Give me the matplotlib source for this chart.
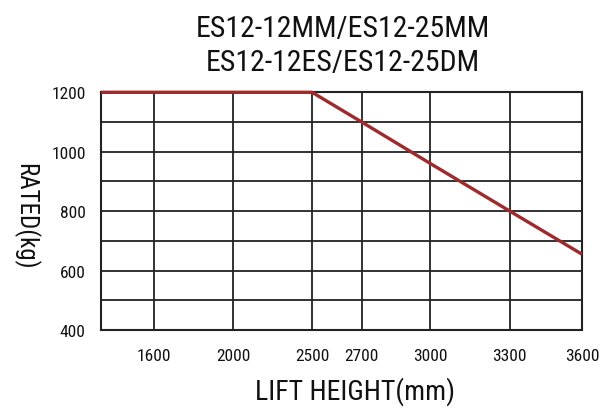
import matplotlib.pyplot as plt
import numpy as np

plt.rcParams["font.family"] = ["Roboto Condensed", "Liberation Sans", "DejaVu Sans"]

TITLE_LINES = ["ES12-12MM/ES12-25MM", "ES12-12ES/ES12-25DM"]
X_LABEL = "LIFT HEIGHT(mm)"
Y_LABEL = "RATED(kg)"

# lift height (mm) and rated capacity (kg)
lift_height = [1330, 2500, 2700, 3000, 3300, 3600]
rated_load = [1200, 1200, 1100, 960, 800, 655]

x_ticks = [1600, 2000, 2500, 2700, 3000, 3300, 3600]
y_ticks = [400, 600, 800, 1000, 1200]
y_grid = [400, 500, 600, 700, 800, 900, 1000, 1100, 1200]

# the original axis is not linear: anchor each tick on its drawn slot
scale_values = np.array([1330, 1600, 2000, 2500, 2700, 3000, 3300, 3600], dtype=float)
scale_slots = np.array([0.0, 0.110, 0.275, 0.439, 0.542, 0.685, 0.850, 1.0])


def forward(values):
    return np.interp(values, scale_values, scale_slots)


def inverse(values):
    return np.interp(values, scale_slots, scale_values)


fig = plt.figure(figsize=(6.06, 4.10), dpi=100)
ax = fig.add_axes([0.1667, 0.1927, 0.7937, 0.5797])

ax.set_xscale("function", functions=(forward, inverse))
ax.set_xlim(scale_values[0], scale_values[-1])
ax.set_ylim(400, 1200)

for value in x_ticks:
    ax.axvline(value, color="#222222", linewidth=1.3, zorder=1)
for value in y_grid:
    ax.axhline(value, color="#222222", linewidth=1.3, zorder=1)

ax.plot(lift_height, rated_load, color="#9e2a2b", linewidth=2.4,
        solid_capstyle="butt", zorder=3, clip_on=False)

ax.set_xticks(x_ticks)
ax.set_xticklabels([str(v) for v in x_ticks])
ax.set_yticks(y_ticks)
ax.set_yticklabels([str(v) for v in y_ticks])
ax.tick_params(axis="both", length=0, labelsize=12.5, labelcolor="#111111")
ax.tick_params(axis="x", pad=13)
ax.tick_params(axis="y", pad=11)

for spine in ax.spines.values():
    spine.set_color("#222222")
    spine.set_linewidth(1.5)

ax.set_xlabel(X_LABEL, fontsize=20, va="center", color="#111111")
ax.xaxis.set_label_coords(0.528, -0.255)
ax.set_ylabel(Y_LABEL, fontsize=18, rotation=-90, va="center", ha="center",
              color="#111111")
ax.yaxis.set_label_coords(-0.156, 0.484)

fig.text(0.565, 0.929, TITLE_LINES[0], ha="center", va="center", fontsize=21.5,
         color="#111111")
fig.text(0.565, 0.846, TITLE_LINES[1], ha="center", va="center", fontsize=21.5,
         color="#111111")

fig.savefig("out.png", dpi=100)
plt.close(fig)
